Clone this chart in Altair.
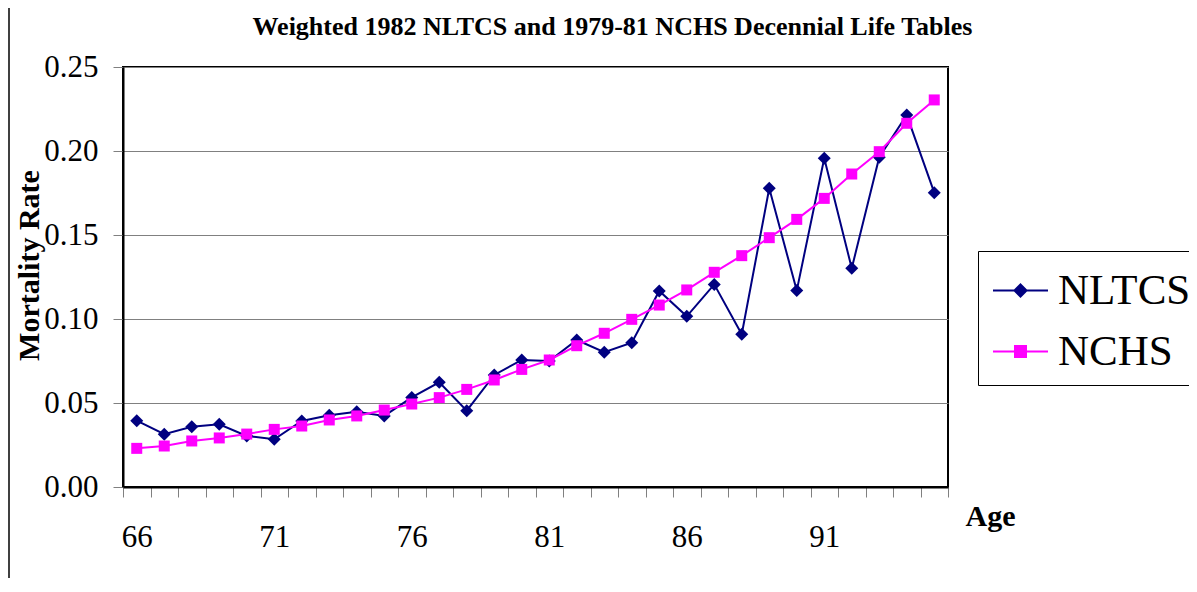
import altair as alt
import pandas as pd

# ---- data ----
ages = list(range(66, 96))
nltcs = [0.0395, 0.0314, 0.0359, 0.0373, 0.0304, 0.0284, 0.0393, 0.0427, 0.0448, 0.0423,
         0.0533, 0.0623, 0.0454, 0.0667, 0.0756, 0.0750, 0.0875, 0.0802, 0.0859, 0.1167,
         0.1016, 0.1206, 0.0909, 0.1778, 0.1169, 0.1957, 0.1302, 0.1963, 0.2214, 0.1752]
nchs = [0.0230, 0.0244, 0.0274, 0.0292, 0.0315, 0.0343, 0.0363, 0.0399, 0.0423, 0.0458,
        0.0494, 0.0532, 0.0581, 0.0637, 0.0700, 0.0756, 0.0841, 0.0915, 0.0998, 0.1083,
        0.1173, 0.1278, 0.1377, 0.1484, 0.1593, 0.1718, 0.1863, 0.1996, 0.2165, 0.2304]
series_names = ["NLTCS", "NCHS"]
series_colors = ["#000080", "#FF00FF"]
series_shapes = ["diamond", "square"]
series_sizes = [169, 121]
y_ticks = [0.0, 0.05, 0.10, 0.15, 0.20, 0.25]
title_text = "Weighted 1982 NLTCS and 1979-81 NCHS Decennial Life Tables"

df = pd.DataFrame({
    "age": ages * 2,
    "rate": nltcs + nchs,
    "series": [series_names[0]] * len(ages) + [series_names[1]] * len(ages),
})

FONT = "Liberation Serif"
legend_shapes = ["M-1,0H1M0,-0.22L0.22,0L0,0.22L-0.22,0Z",
                 "M-1,0H1M-0.2,-0.2H0.2V0.2H-0.2Z"]

def color_scale():
    return alt.Scale(domain=series_names, range=series_colors)

def make_legend():
    return alt.Legend(
        title=None, orient="none", legendX=855, legendY=184,
        labelFont=FONT, labelFontSize=43, labelColor="black", labelBaseline="middle",
        symbolSize=3025, symbolStrokeWidth=2, symbolOpacity=1, labelOffset=9, symbolOffset=3,
        strokeColor="black", fillColor="white", padding=11, rowPadding=10,
    )

x_enc = alt.X(
    "age:O",
    scale=alt.Scale(type="band", paddingInner=0, paddingOuter=0),
    axis=alt.Axis(
        title="Age", titleFont=FONT, titleFontSize=30, titleFontWeight="bold", titleColor="black",
        titleX=842, titleY=38, titleAlign="left", titleBaseline="alphabetic", titleAngle=0,
        labelAngle=0, labelFont=FONT, labelFontSize=31, labelColor="black", labelPadding=25,
        labelExpr="(datum.value - 66) % 5 == 0 ? datum.value : ''", labelOverlap=False,
        tickColor="#808080", tickSize=10, tickBand="extent",
        domainColor="black", domainWidth=2, grid=False,
    ),
)
y_enc = alt.Y(
    "rate:Q",
    scale=alt.Scale(domain=[0, 0.25], nice=False),
    axis=alt.Axis(
        title="Mortality Rate", titleFont=FONT, titleFontSize=30, titleFontWeight="bold",
        titleColor="black", titleX=-85, titleY=198, titleAlign="center", titleBaseline="alphabetic",
        titleAngle=-90,
        values=y_ticks, format=".2f", labelFont=FONT, labelFontSize=31, labelColor="black",
        labelPadding=15, tickColor="#808080", tickSize=10,
        grid=True, gridColor="#808080", gridWidth=1,
        domainColor="black", domainWidth=2,
    ),
)

base = alt.Chart(df)
layers = []
for name, col, shape, size in zip(series_names, series_colors, series_shapes, series_sizes):
    sub = base.transform_filter(f"datum.series == '{name}'")
    layers.append(sub.mark_line(strokeWidth=2, color=col).encode(x=x_enc, y=y_enc))
    layers.append(sub.mark_point(shape=shape, filled=True, size=size, opacity=1, color=col)
                  .encode(x=x_enc, y=y_enc))

# legend-only layer (no rows drawn)
legend_layer = base.transform_filter("false").mark_point(filled=True, strokeWidth=2, opacity=1).encode(
    fill=alt.Fill("series:N", scale=color_scale(), legend=make_legend()),
    stroke=alt.Stroke("series:N", scale=color_scale(), legend=make_legend()),
    shape=alt.Shape("series:N", scale=alt.Scale(domain=series_names, range=legend_shapes),
                    legend=make_legend()),
)

border = alt.Chart(pd.DataFrame({"k": [0]})).mark_rule(color="#404040", strokeWidth=2).encode(
    x=alt.value(-114), y=alt.value(-59), y2=alt.value(511))

chart = alt.layer(border, *layers, legend_layer).properties(
    width=825, height=420,
    title=alt.TitleParams(title_text, font=FONT, fontSize=26, fontWeight="bold", color="black",
                          anchor="middle", dx=77, offset=-54, baseline="alphabetic"),
    autosize=alt.AutoSizeParams(type="none"),
    padding={"left": 115, "top": 59, "right": 241, "bottom": 91},
    background="white",
).configure(font=FONT).configure_view(stroke="black", strokeWidth=2).configure_legend(
    labelFont=FONT, labelFontSize=43, labelColor="black"
)

chart.save("out.html", embed_options={"renderer": "svg", "actions": False})
